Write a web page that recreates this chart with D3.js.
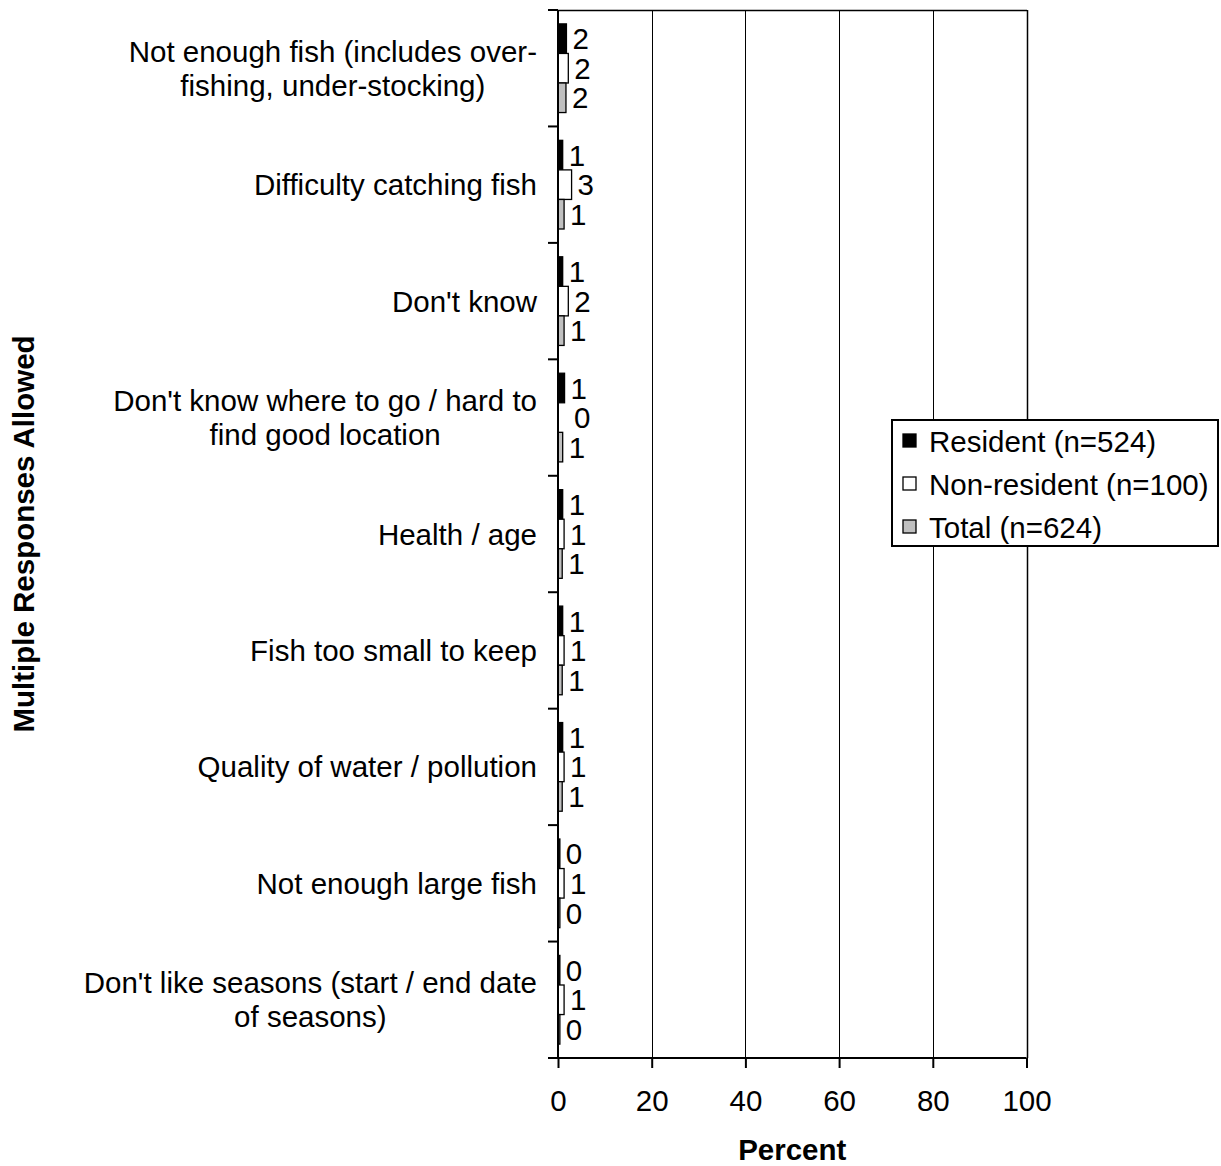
<!DOCTYPE html>
<html>
<head>
<meta charset="utf-8">
<script src="https://cdn.jsdelivr.net/npm/d3@7"></script>
<style>
  body { margin: 0; background: #fff; }
  text { font-family: "Liberation Sans", Arial, sans-serif; fill: #000; }
</style>
</head>
<body>
<script>
// categories, top to bottom (lines split where the original wraps)
const categories = [
  ["Not enough fish (includes over-", "fishing, under-stocking)"],
  ["Difficulty catching fish"],
  ["Don't know"],
  ["Don't know where to go / hard to", "find good location"],
  ["Health / age"],
  ["Fish too small to keep"],
  ["Quality of water / pollution"],
  ["Not enough large fish"],
  ["Don't like seasons (start / end date", "of seasons)"]
];

const seriesNames = ["Resident (n=524)", "Non-resident (n=100)", "Total (n=624)"];
const seriesColors = ["#000000", "#ffffff", "#c0c0c0"];

const resident    = [1.8, 1.0, 1.0, 1.4, 1.0, 1.0, 1.0, 0.4, 0.4];
const nonResident = [2.2, 2.9, 2.2, 0.0, 1.3, 1.3, 1.3, 1.3, 1.3];
const total       = [1.7, 1.3, 1.3, 1.0, 0.9, 0.9, 0.9, 0.4, 0.4];

const xTicks = [0, 20, 40, 60, 80, 100];

const width = 1221, height = 1166;
const margin = { top: 10, right: 194, bottom: 108, left: 558 };
const fontSize = 29.5;

const series = [resident, nonResident, total];

const svg = d3.select("body").append("svg")
  .attr("width", width)
  .attr("height", height);

const x = d3.scaleLinear()
  .domain([0, 100])
  .range([margin.left, width - margin.right - 0.5]);

const y = d3.scaleBand()
  .domain(d3.range(categories.length))
  .range([margin.top, height - margin.bottom]);

const inner = d3.scaleBand()
  .domain(d3.range(series.length))
  .range([0, y.bandwidth()])
  .paddingOuter(0.47)
  .paddingInner(0);

// gridlines
svg.append("g")
  .selectAll("line")
  .data(xTicks.slice(1))
  .join("line")
  .attr("x1", d => Math.round(x(d)) + 0.5)
  .attr("x2", d => Math.round(x(d)) + 0.5)
  .attr("y1", margin.top)
  .attr("y2", height - margin.bottom)
  .attr("stroke", "#000")
  .attr("stroke-width", d => d === 100 ? 1.5 : 1);

// top border
svg.append("line")
  .attr("x1", x(0)).attr("x2", x(100) + 0.5)
  .attr("y1", margin.top + 0.5).attr("y2", margin.top + 0.5)
  .attr("stroke", "#000").attr("stroke-width", 1.5);

// bars
const groups = svg.append("g")
  .selectAll("g")
  .data(categories)
  .join("g")
  .attr("transform", (d, i) => `translate(0,${y(i)})`);

groups.each(function (cat, ci) {
  const g = d3.select(this);
  series.forEach((vals, si) => {
    const v = vals[ci];
    if (v > 0) {
      g.append("rect")
        .attr("x", x(0))
        .attr("y", inner(si))
        .attr("width", x(v) - x(0))
        .attr("height", inner.bandwidth())
        .attr("fill", seriesColors[si])
        .attr("stroke", "#000")
        .attr("stroke-width", 1.3);
    }
    g.append("text")
      .attr("x", x(v) + (v === 0 ? 16 : 6))
      .attr("y", inner(si) + inner.bandwidth() / 2)
      .attr("dy", "0.36em")
      .attr("font-size", fontSize)
      .text(d3.format(".0f")(v));
  });
});

// y axis
const yAxis = svg.append("g")
  .attr("transform", `translate(${x(0)},0)`);
yAxis.append("line")
  .attr("x1", 0).attr("x2", 0)
  .attr("y1", margin.top).attr("y2", height - margin.bottom)
  .attr("stroke", "#000").attr("stroke-width", 2);
yAxis.selectAll(".tk")
  .data(d3.range(categories.length + 1))
  .join("line")
  .attr("class", "tk")
  .attr("x1", -10).attr("x2", 0)
  .attr("y1", i => i < categories.length ? y(i) : height - margin.bottom)
  .attr("y2", i => i < categories.length ? y(i) : height - margin.bottom)
  .attr("stroke", "#000").attr("stroke-width", 2);

// category labels: right-aligned block, lines centred within it
const lineH = 34;
groups.each(function (lines, ci) {
  const g = d3.select(this);
  const cy = y.bandwidth() / 2;
  const texts = lines.map((l, li) => g.append("text")
    .attr("font-size", fontSize)
    .attr("text-anchor", "middle")
    .attr("y", cy + (li - (lines.length - 1) / 2) * lineH)
    .attr("dy", "0.36em")
    .text(l));
  const w = d3.max(texts, t => t.node().getComputedTextLength());
  const right = x(0) - 21;
  texts.forEach(t => t.attr("x", right - w / 2));
});

// x axis
const xAxis = svg.append("g")
  .attr("transform", `translate(0,${height - margin.bottom})`)
  .call(d3.axisBottom(x).tickValues(xTicks).tickSize(10).tickPadding(22).tickFormat(d3.format("d")));
xAxis.select(".domain").attr("stroke-width", 2).attr("d", `M${x(0) - 10},0H${x(100)}`);
xAxis.selectAll(".tick line").attr("stroke-width", 2);
xAxis.selectAll(".tick text")
  .attr("font-size", fontSize)
  .attr("font-family", "Liberation Sans, Arial, sans-serif");

// axis titles
svg.append("text")
  .attr("x", (x(0) + x(100)) / 2)
  .attr("y", 1149)
  .attr("dy", "0.36em")
  .attr("text-anchor", "middle")
  .attr("font-size", fontSize)
  .attr("font-weight", "bold")
  .text("Percent");

svg.append("text")
  .attr("transform", `translate(34,${(margin.top + height - margin.bottom) / 2}) rotate(-90)`)
  .attr("text-anchor", "middle")
  .attr("font-size", fontSize)
  .attr("font-weight", "bold")
  .text("Multiple Responses Allowed");

// legend
const legend = svg.append("g").attr("transform", "translate(892,420)");
legend.append("rect")
  .attr("width", 326).attr("height", 126)
  .attr("fill", "#fff").attr("stroke", "#000").attr("stroke-width", 2);
seriesNames.forEach((name, i) => {
  const cy = 21 + i * 43;
  legend.append("rect")
    .attr("x", 11).attr("y", cy - 7)
    .attr("width", 13).attr("height", 13)
    .attr("fill", seriesColors[i]).attr("stroke", "#000").attr("stroke-width", 1.3);
  legend.append("text")
    .attr("x", 37).attr("y", cy)
    .attr("dy", "0.36em")
    .attr("font-size", fontSize)
    .text(name);
});
</script>
</body>
</html>
